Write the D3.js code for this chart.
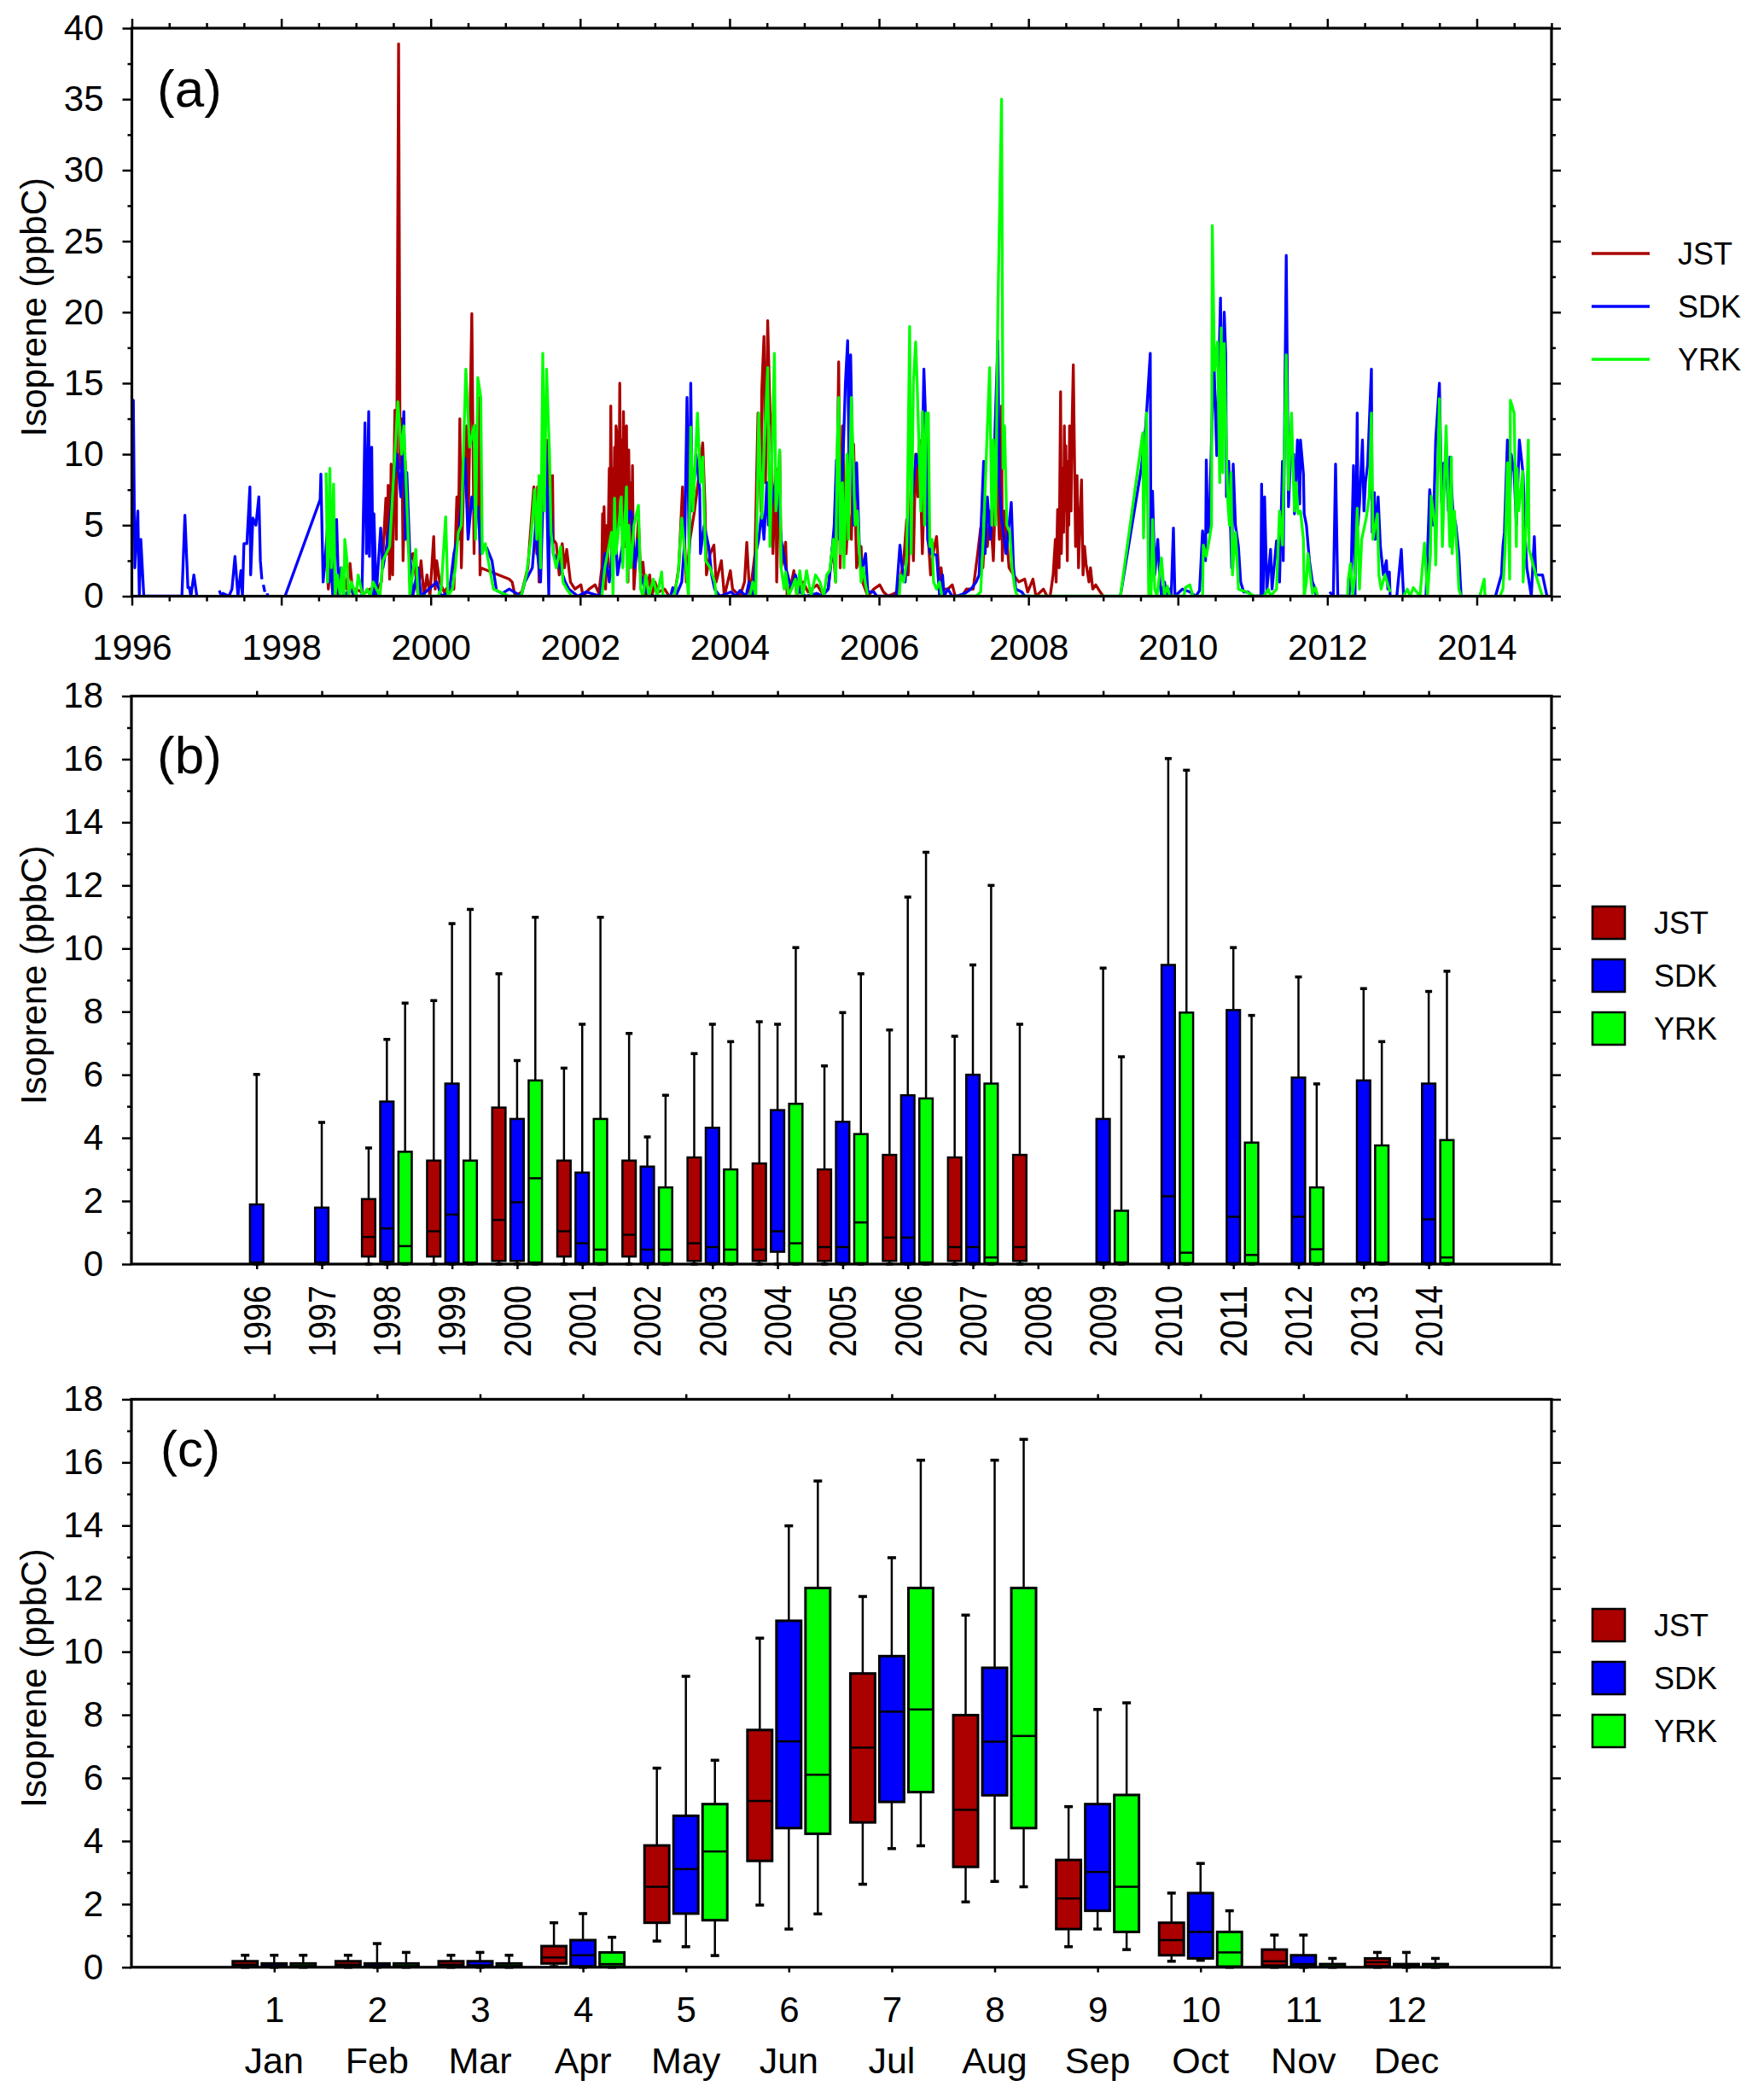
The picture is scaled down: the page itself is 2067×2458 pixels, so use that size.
<!DOCTYPE html>
<html><head><meta charset="utf-8">
<script src="https://cdn.jsdelivr.net/npm/d3@7"></script>
<style>html,body{margin:0;padding:0;background:#fff;}svg{display:block;}</style>
</head><body>
<svg id="chart" width="2067" height="2458"></svg>
<script>
// ---------------- DATA ----------------
const stations = ["JST", "SDK", "YRK"];
const stationColors = ["#aa0000", "#0000ff", "#00ff00"];

// Panel (a): [decimal year, isoprene ppbC]; null = gap in record
const jstSeries = [
[1998.60,3.1],[1998.63,0.5],[1998.66,2.5],[1998.69,2.0],[1998.73,0.5],[1998.77,0],[1998.84,1.5],[1998.88,0.5],[1998.92,2.3],[1998.96,0],[1999.00,0.5],[1999.11,0.2],[1999.19,0.5],[1999.26,0.3],[1999.34,1.0],
[1999.40,6.9],[1999.42,3.0],[1999.43,7.8],[1999.45,1.2],[1999.47,9.3],[1999.49,1.5],[1999.52,13.1],[1999.54,4.0],[1999.57,38.9],[1999.59,9.0],[1999.61,12.5],[1999.63,2.5],[1999.66,9.5],[1999.70,3.5],[1999.72,2.5],[1999.76,3.0],[1999.80,1.5],[1999.83,0],[1999.87,2.5],[1999.91,0],[1999.95,1.5],[1999.99,0],[2000.04,4.2],[2000.06,0.5],[2000.08,2.5],[2000.12,1.0],[2000.18,0.3],[2000.25,0.8],[2000.31,0.5],
[2000.35,7.0],[2000.37,4.0],[2000.39,12.5],[2000.41,2.0],[2000.44,8.0],[2000.48,12.0],[2000.50,4.5],[2000.55,19.9],[2000.58,3.0],[2000.60,12.0],[2000.62,6.0],[2000.64,14.0],[2000.66,1.5],[2000.67,2.0],[2001.05,1.2],[2001.09,1.0],[2001.13,0],[2001.22,0.3],
[2001.30,2.0],[2001.38,7.7],[2001.42,3.0],[2001.43,7.7],[2001.45,1.0],[2001.49,6.0],[2001.52,9.0],[2001.55,11.0],[2001.59,4.0],[2001.63,8.5],[2001.64,4.0],[2001.68,3.7],[2001.72,1.5],[2001.76,3.7],[2001.79,2.0],[2001.82,3.3],[2001.87,1.0],[2001.93,0.5],[2002.01,0.8],[2002.04,0],[2002.12,0.5],[2002.20,0.8],[2002.25,0.2],
[2002.29,2.0],[2002.30,5.8],[2002.31,1.0],[2002.32,6.3],[2002.33,3.0],[2002.34,0.5],[2002.36,5.0],[2002.37,2.0],[2002.38,5.9],[2002.39,9.0],[2002.40,4.0],[2002.41,13.4],[2002.42,6.0],[2002.43,1.5],[2002.44,9.0],[2002.45,5.0],[2002.46,10.5],[2002.47,6.0],[2002.48,12.0],[2002.49,11.5],[2002.50,4.0],[2002.51,11.0],[2002.52,7.0],[2002.53,15.0],[2002.54,8.0],[2002.55,5.0],[2002.56,11.0],[2002.57,6.0],[2002.58,13.0],[2002.59,7.0],[2002.60,3.5],[2002.61,9.0],[2002.62,12.0],[2002.63,5.0],[2002.64,1.0],[2002.65,10.3],[2002.66,6.0],[2002.67,4.5],[2002.68,8.0],[2002.69,3.0],[2002.70,9.2],[2002.71,4.0],[2002.72,0.5],[2002.75,3.0],[2002.78,5.4],[2002.81,1.5],[2002.84,2.4],[2002.88,0],[2002.93,1.5],[2002.96,0],[2003.00,1.0],[2003.05,0.3],[2003.13,0.5],[2003.19,0],[2003.26,0],
[2003.32,2.0],[2003.37,7.7],[2003.42,1.0],[2003.47,4.0],[2003.53,6.0],[2003.59,8.5],[2003.64,10.8],[2003.67,6.5],[2003.69,1.5],[2003.74,3.0],[2003.79,3.6],[2003.82,1.0],[2003.89,2.5],[2003.93,0],[2004.01,1.8],[2004.04,0.5],[2004.14,0],[2004.20,1.0],
[2004.23,3.8],[2004.27,0],[2004.34,3.0],[2004.38,12.9],[2004.42,6.0],[2004.43,14.4],[2004.46,18.3],[2004.48,8.0],[2004.51,19.4],[2004.54,13.0],[2004.56,12.0],[2004.58,3.0],[2004.62,9.0],[2004.63,1.0],[2004.67,10.2],[2004.69,2.0],[2004.75,3.8],[2004.77,0],[2004.83,1.0],[2004.86,1.8],[2004.90,0],[2004.98,1.0],[2005.05,0.3],[2005.17,0.8],[2005.24,0.2],[2005.32,0.5],
[2005.38,3.7],[2005.42,1.0],[2005.46,16.5],[2005.48,2.0],[2005.51,12.0],[2005.53,8.0],[2005.56,3.0],[2005.59,6.0],[2005.63,4.0],[2005.66,10.7],[2005.70,2.0],[2005.76,3.5],[2005.78,1.0],[2005.85,0],[2005.93,0.5],[2006.01,0.8],[2006.06,0.3],[2006.12,0],[2006.25,0.3],
[2006.33,2.5],[2006.37,5.4],[2006.39,1.5],[2006.43,8.0],[2006.46,2.5],[2006.49,10.0],[2006.52,7.0],[2006.54,11.0],[2006.58,3.0],[2006.62,10.0],[2006.65,5.6],[2006.66,4.0],[2006.69,1.5],[2006.73,3.2],[2006.77,4.2],[2006.81,0.8],[2006.83,2.0],[2006.86,0.5],[2006.92,0.5],[2006.98,0.8],[2007.02,0],[2007.11,0],[2007.17,0.5],[2007.26,0.5],
[2007.32,3.0],[2007.36,4.8],[2007.39,2.0],[2007.42,5.0],[2007.45,3.5],[2007.49,6.0],[2007.53,2.5],[2007.57,9.5],[2007.61,4.0],[2007.64,13.4],[2007.65,2.5],[2007.68,6.0],[2007.74,2.0],[2007.80,1.5],[2007.87,1.0],[2007.95,1.2],[2007.99,0.3],[2008.06,1.2],[2008.10,0],[2008.20,0.5],[2008.25,0],
[2008.29,0],[2008.33,1.5],[2008.36,4.0],[2008.37,1.0],[2008.39,6.1],[2008.41,2.0],[2008.43,14.4],[2008.44,3.0],[2008.46,9.0],[2008.47,4.5],[2008.48,12.0],[2008.49,6.0],[2008.50,10.6],[2008.52,2.5],[2008.53,9.5],[2008.54,5.0],[2008.55,12.0],[2008.57,6.0],[2008.58,11.0],[2008.60,16.3],[2008.62,8.0],[2008.63,3.5],[2008.65,8.5],[2008.67,2.0],[2008.69,5.5],[2008.71,8.2],[2008.73,1.5],[2008.75,3.5],[2008.77,2.3],[2008.81,1.0],[2008.83,2.0],[2008.86,0.5],[2008.90,0.8],[2008.96,0.3],[2009.00,0]
];

const sdkSeries = [
[1996.00,8.0],[1996.02,13.8],[1996.04,2.0],[1996.08,6.0],[1996.10,0],[1996.12,4.0],[1996.16,0],[1996.67,0],[1996.71,5.7],[1996.75,0.6],[1996.77,0.6],[1996.79,0],[1996.83,1.5],[1996.87,0],[1996.88,null],
[1997.17,0.4],[1997.20,0],[1997.22,0.2],[1997.30,0],[1997.34,0.5],[1997.38,2.8],[1997.42,0],[1997.46,1.8],[1997.48,0],[1997.50,3.7],[1997.54,3.7],[1997.58,7.7],[1997.59,1.5],[1997.62,5.5],[1997.66,5.0],[1997.70,7.0],[1997.72,2.5],[1997.74,1.2],[1997.75,null],[1997.76,0.8],[1997.78,0.3],[1997.79,null],[1997.81,0.2],[1997.82,0],[1997.90,null],
[1998.05,0],[1998.52,6.8],[1998.53,8.6],[1998.56,1.0],[1998.59,2.8],[1998.62,5.0],[1998.64,1.0],[1998.66,2.5],[1998.69,0],[1998.74,5.4],[1998.77,0],[1998.80,2.0],[1998.84,0],[1998.92,0.5],[1999.00,0],[1999.08,0],
[1999.12,12.2],[1999.14,3.0],[1999.17,13.0],[1999.18,2.8],[1999.21,10.5],[1999.23,0],[1999.24,5.8],[1999.27,0],[1999.33,4.8],[1999.36,2.0],[1999.40,3.2],[1999.45,5.0],[1999.50,8.0],[1999.55,10.0],[1999.60,7.0],[1999.64,13.0],[1999.66,4.0],[1999.68,8.7],[1999.72,3.0],[1999.76,0],[1999.83,2.0],[1999.87,0],
[2000.08,1.0],[2000.14,0],[2000.25,0.3],[2000.31,3.0],[2000.38,4.5],[2000.42,7.0],[2000.46,9.7],[2000.50,4.0],[2000.55,7.0],[2000.60,5.5],[2000.63,6.3],[2000.67,3.0],[2000.72,3.5],[2000.75,3.4],[2000.82,2.5],[2000.88,0.4],[2000.96,0.2],[2001.05,0.5],
[2001.21,0],[2001.26,1.0],[2001.36,2.0],[2001.42,6.0],[2001.43,3.0],[2001.47,1.0],[2001.51,8.0],[2001.54,10.9],[2001.58,0],[2001.59,7.7],[2001.64,3.0],[2001.70,2.5],[2001.80,1.0],[2001.85,0.5],[2001.97,0],[2002.08,0.3],
[2002.27,0],[2002.33,3.0],[2002.39,1.0],[2002.44,4.0],[2002.47,5.0],[2002.50,1.5],[2002.58,4.0],[2002.67,6.0],[2002.69,5.8],[2002.73,2.0],[2002.77,4.0],[2002.81,1.5],[2002.88,0.3],[2002.96,0],[2003.21,0],[2003.24,0.6],[2003.28,0],
[2003.36,1.0],[2003.40,4.0],[2003.43,14.0],[2003.46,3.0],[2003.48,15.0],[2003.50,6.0],[2003.55,10.0],[2003.60,7.5],[2003.61,3.0],[2003.66,5.0],[2003.72,3.5],[2003.76,1.5],[2003.80,0.5],[2003.87,0],[2004.02,0.3],[2004.08,0],[2004.14,0.4],[2004.22,0],
[2004.26,1.0],[2004.31,0],[2004.35,3.0],[2004.39,4.0],[2004.43,6.0],[2004.46,4.0],[2004.50,8.0],[2004.52,5.0],[2004.58,7.0],[2004.63,8.5],[2004.69,4.0],[2004.75,2.0],[2004.83,0.5],[2004.88,1.5],[2004.94,0.3],[2005.02,0],[2005.17,0.2],[2005.24,0],
[2005.32,0.5],[2005.36,2.5],[2005.40,5.0],[2005.43,9.6],[2005.47,4.0],[2005.52,10.0],[2005.55,15.0],[2005.58,18.0],[2005.60,8.0],[2005.62,17.0],[2005.66,5.0],[2005.70,9.4],[2005.74,3.0],[2005.78,2.0],[2005.82,3.0],[2005.85,0.3],[2005.93,0.3],[2005.97,0],
[2006.23,0],[2006.28,3.6],[2006.31,2.0],[2006.35,1.0],[2006.39,4.0],[2006.43,6.0],[2006.46,8.0],[2006.50,10.0],[2006.56,8.5],[2006.57,7.1],[2006.60,16.0],[2006.64,10.0],[2006.65,4.0],[2006.69,3.0],[2006.77,2.9],[2006.81,0],[2006.85,1.5],[2006.87,0],[2006.92,0.5],[2006.98,0],[2007.04,0],[2007.15,0.2],[2007.23,0.5],[2007.30,1.0],[2007.34,1.5],
[2007.40,9.5],[2007.42,3.0],[2007.45,7.0],[2007.49,4.0],[2007.53,8.0],[2007.59,18.0],[2007.61,8.0],[2007.64,5.5],[2007.70,3.0],[2007.77,6.6],[2007.80,2.0],[2007.83,0.5],[2007.91,0.3],[2007.95,0],[2008.02,0],[2008.03,null],
[2009.23,0],[2009.51,9.0],[2009.57,12.0],[2009.63,17.1],[2009.64,1.0],[2009.66,7.4],[2009.69,1.5],[2009.73,4.0],[2009.76,1.0],[2009.78,0],[2009.82,1.0],[2009.85,0],[2009.89,0.5],[2009.91,0],[2009.94,4.8],[2009.96,0],[2010.06,0.5],[2010.16,0.3],[2010.24,0],[2010.29,0.4],
[2010.33,4.6],[2010.37,2.5],[2010.38,9.6],[2010.40,4.5],[2010.42,5.0],[2010.48,17.0],[2010.52,9.9],[2010.57,21.0],[2010.59,11.0],[2010.62,20.0],[2010.64,17.0],[2010.65,7.0],[2010.68,9.5],[2010.72,2.0],[2010.74,9.3],[2010.77,5.0],[2010.81,3.5],[2010.84,1.0],[2010.88,0.3],[2010.94,0.3],[2011.00,0],[2011.11,0],
[2011.12,7.9],[2011.14,0],[2011.16,7.0],[2011.19,0.4],[2011.24,3.3],[2011.26,0.5],[2011.32,3.9],[2011.36,1.0],[2011.40,9.5],[2011.41,2.5],[2011.45,24.0],[2011.48,6.3],[2011.51,10.0],[2011.55,10.0],[2011.56,5.8],[2011.60,11.0],[2011.63,6.5],[2011.64,11.0],[2011.68,8.6],[2011.69,5.8],[2011.72,5.0],[2011.76,2.5],[2011.80,1.0],[2011.84,0.5],[2011.85,0],[2011.90,null],
[2012.03,0.3],[2012.08,0],[2012.11,9.3],[2012.14,0],[2012.29,0],[2012.32,2.0],[2012.35,9.2],[2012.37,0],[2012.40,12.9],[2012.41,5.0],[2012.43,6.5],[2012.47,11.0],[2012.49,6.0],[2012.51,8.0],[2012.54,9.3],[2012.59,16.0],[2012.60,4.5],[2012.63,7.3],[2012.64,4.0],[2012.68,7.0],[2012.71,3.5],[2012.75,1.5],[2012.79,2.5],[2012.81,0.5],[2012.83,1.7],[2012.84,0],[2012.88,null],
[2012.93,0],[2012.99,3.3],[2013.02,0],[2013.10,null],
[2013.32,0],[2013.37,7.5],[2013.42,5.0],[2013.45,11.0],[2013.50,15.0],[2013.53,6.6],[2013.54,9.3],[2013.59,9.5],[2013.62,6.0],[2013.64,9.8],[2013.68,6.0],[2013.72,5.0],[2013.76,3.0],[2013.79,0],[2013.90,null],
[2014.25,0],[2014.33,1.5],[2014.35,3.5],[2014.37,4.5],[2014.41,11.0],[2014.44,6.0],[2014.46,10.0],[2014.50,8.7],[2014.53,5.0],[2014.57,11.0],[2014.62,8.6],[2014.64,5.5],[2014.65,4.0],[2014.67,2.0],[2014.73,0],[2014.77,4.2],[2014.79,1.5],[2014.84,1.5],[2014.88,1.5],[2014.94,0]
];

const yrkSeries = [
[1998.60,8.7],[1998.62,1.0],[1998.65,9.0],[1998.67,2.0],[1998.70,7.9],[1998.72,0],[1998.75,1.5],[1998.79,0],[1998.81,2.0],[1998.84,0],[1998.85,4.0],[1998.88,2.5],[1998.90,0],[1998.94,1.0],[1999.00,0],[1999.03,1.5],[1999.09,0],[1999.15,0.5],[1999.19,0],[1999.23,1.0],[1999.32,0],
[1999.36,2.5],[1999.45,3.5],[1999.51,9.0],[1999.56,13.7],[1999.61,10.0],[1999.64,12.0],[1999.70,4.0],[1999.72,0],[1999.80,3.3],[1999.83,0],[1999.99,0],[2000.10,0],[2000.14,0.5],[2000.20,5.6],[2000.23,0],[2000.29,0.5],
[2000.33,2.0],[2000.37,4.5],[2000.41,5.0],[2000.47,16.0],[2000.52,10.5],[2000.58,12.0],[2000.60,4.0],[2000.63,15.4],[2000.67,14.0],[2000.69,3.0],[2000.73,3.7],[2000.77,2.5],[2000.84,0.5],[2001.05,0],[2001.21,0],
[2001.28,1.5],[2001.34,4.0],[2001.39,7.5],[2001.42,4.0],[2001.45,8.5],[2001.47,2.0],[2001.50,17.1],[2001.52,6.0],[2001.55,16.0],[2001.59,10.0],[2001.61,4.5],[2001.64,3.0],[2001.68,2.0],[2001.74,3.5],[2001.77,1.0],[2001.82,0.5],[2001.89,0],[2001.95,null],
[2002.29,0],[2002.33,2.0],[2002.42,4.5],[2002.44,0],[2002.46,6.9],[2002.48,3.0],[2002.50,4.0],[2002.55,7.0],[2002.57,2.0],[2002.62,7.7],[2002.63,1.0],[2002.65,5.0],[2002.68,2.0],[2002.72,5.0],[2002.78,6.4],[2002.81,0.5],[2002.84,0],[2002.88,1.5],[2002.92,0],[2002.98,1.2],[2003.03,0],[2003.09,1.7],[2003.11,0],[2003.26,0],
[2003.31,1.5],[2003.36,5.5],[2003.45,0],[2003.48,11.9],[2003.51,6.0],[2003.57,12.9],[2003.61,8.0],[2003.64,9.8],[2003.68,2.5],[2003.74,2.0],[2003.80,1.0],[2003.82,0],[2003.85,null],
[2004.27,0],[2004.31,1.0],[2004.35,0],[2004.39,12.9],[2004.43,5.5],[2004.46,10.0],[2004.51,16.1],[2004.54,3.5],[2004.60,17.1],[2004.62,6.0],[2004.63,6.5],[2004.67,10.3],[2004.69,2.0],[2004.73,0.5],[2004.75,1.7],[2004.79,0],[2004.88,1.2],[2004.90,0],[2004.94,1.8],[2004.98,0],[2005.03,1.8],[2005.09,0],[2005.15,1.5],[2005.21,1.0],[2005.26,0],[2005.30,1.5],[2005.34,1.8],
[2005.39,4.0],[2005.42,1.0],[2005.44,10.5],[2005.46,14.0],[2005.48,3.0],[2005.51,8.0],[2005.53,2.0],[2005.57,10.0],[2005.59,4.0],[2005.63,14.0],[2005.68,5.0],[2005.71,6.0],[2005.76,1.0],[2005.79,2.0],[2005.82,0.8],[2005.85,0],[2005.90,null],
[2006.27,0],[2006.29,1.5],[2006.33,1.0],[2006.37,2.5],[2006.41,19.0],[2006.43,3.0],[2006.46,15.0],[2006.49,17.9],[2006.51,15.0],[2006.56,6.0],[2006.58,13.0],[2006.61,5.0],[2006.63,12.9],[2006.66,12.9],[2006.68,3.5],[2006.71,4.0],[2006.73,1.0],[2006.77,0.5],[2006.81,1.0],[2006.84,0],[2006.90,null],
[2007.07,0],[2007.30,0],[2007.36,0.3],[2007.40,4.6],[2007.43,9.0],[2007.48,16.1],[2007.51,5.0],[2007.53,11.0],[2007.56,5.0],[2007.59,20.0],[2007.64,35.0],[2007.66,9.0],[2007.68,12.0],[2007.71,5.0],[2007.75,4.5],[2007.78,2.0],[2007.82,0.5],[2007.85,0],[2008.98,0],
[2009.23,0],[2009.53,11.5],[2009.54,4.1],[2009.58,12.9],[2009.61,0],[2009.64,0],[2009.66,5.4],[2009.69,0.5],[2009.72,0],[2009.78,2.7],[2009.82,0],[2009.86,0.7],[2009.89,0],[2010.08,0],[2010.10,0.6],[2010.16,0.8],[2010.20,0],[2010.33,0],
[2010.34,3.6],[2010.38,2.8],[2010.42,4.0],[2010.45,5.0],[2010.46,26.1],[2010.49,15.9],[2010.53,17.9],[2010.56,8.0],[2010.58,18.9],[2010.60,8.7],[2010.62,17.8],[2010.65,10.0],[2010.67,6.5],[2010.69,5.0],[2010.71,8.7],[2010.73,1.5],[2010.77,4.5],[2010.79,2.8],[2010.81,0.5],[2010.86,0.4],[2010.92,0.3],[2011.02,0],[2011.15,0],
[2011.21,0.5],[2011.24,0],[2011.32,0.5],[2011.36,6.0],[2011.40,3.6],[2011.45,17.0],[2011.48,7.5],[2011.52,12.9],[2011.56,6.0],[2011.58,8.0],[2011.61,5.8],[2011.64,6.0],[2011.68,4.0],[2011.69,0],[2011.72,1.0],[2011.74,3.0],[2011.80,0.2],[2011.84,0.6],[2011.87,0],[2011.95,null],
[2012.27,0],[2012.28,1.2],[2012.31,2.3],[2012.34,0],[2012.37,1.5],[2012.40,6.2],[2012.43,0.5],[2012.46,4.0],[2012.52,5.5],[2012.56,7.0],[2012.59,12.9],[2012.61,4.0],[2012.67,5.8],[2012.69,1.5],[2012.72,0.5],[2012.77,1.5],[2012.84,0.3],[2012.90,null],
[2013.02,0],[2013.07,0.5],[2013.11,0],[2013.15,0.6],[2013.24,0],[2013.30,3.75],[2013.34,0],[2013.38,3.0],[2013.39,7.05],[2013.44,5.0],[2013.45,2.2],[2013.50,13.9],[2013.54,3.5],[2013.59,12.0],[2013.61,8.0],[2013.64,3.5],[2013.66,9.8],[2013.67,3.0],[2013.70,6.0],[2013.74,2.7],[2013.76,0.5],[2013.79,0],[2013.90,null],
[2014.04,0],[2014.10,1.2],[2014.11,0],[2014.20,null],[2014.31,0],[2014.35,0.5],[2014.38,3.4],[2014.41,9.4],[2014.44,1.2],[2014.45,13.8],[2014.50,12.9],[2014.53,3.5],[2014.54,9.0],[2014.56,6.0],[2014.615,8.8],[2014.62,1.0],[2014.66,5.0],[2014.69,11.0],[2014.70,3.3],[2014.79,1.5],[2014.86,0.3],[2014.88,0]
];

// Panel (b): yearly box stats [year, q1, median, q3, upper whisker]
const boxYears = d3.range(1996, 2015);
const jstYearly = [
[1998,0.24,0.86,2.06,3.68],[1999,0.24,1.04,3.28,8.35],[2000,0.10,1.40,4.96,9.20],[2001,0.24,1.04,3.28,6.21],[2002,0.24,0.93,3.28,7.31],
[2003,0.10,0.66,3.38,6.67],[2004,0.10,0.46,3.19,7.68],[2005,0.10,0.54,3.00,6.28],[2006,0.10,0.84,3.46,7.42],[2007,0.10,0.54,3.38,7.22],[2008,0.10,0.54,3.46,7.60]
];
const sdkYearly = [
[1996,0.02,0.05,1.89,6.01],[1997,0.02,0.05,1.79,4.49],[1998,0.07,1.13,5.15,7.12],[1999,0.03,1.57,5.72,10.79],[2000,0.10,1.96,4.60,6.45],
[2001,0.03,0.66,2.90,7.60],[2002,0.03,0.46,3.09,4.03],[2003,0.03,0.54,4.32,7.60],[2004,0.39,1.04,4.88,7.60],[2005,0.03,0.54,4.51,7.97],
[2006,0.03,0.84,5.35,11.63],[2007,0.03,0.54,6.00,9.48],[2009,0.02,0.05,4.60,9.38],[2010,0.03,2.15,9.48,16.02],[2011,0.03,1.50,8.05,10.03],
[2012,0.03,1.50,5.91,9.10],[2013,0.02,0.05,5.82,8.73],[2014,0.03,1.42,5.72,8.64]
];
const yrkYearly = [
[1998,0.03,0.57,3.56,8.27],[1999,0.02,0.05,3.28,11.24],[2000,0.05,2.72,5.82,10.99],[2001,0.03,0.46,4.60,10.99],[2002,0.03,0.46,2.43,5.35],
[2003,0.03,0.46,3.00,7.05],[2004,0.03,0.66,5.08,10.03],[2005,0.03,1.32,4.12,9.20],[2006,0.03,0.05,5.25,13.05],[2007,0.03,0.21,5.72,12.00],
[2009,0.02,0.05,1.69,6.57],[2010,0.03,0.36,7.97,15.65],[2011,0.03,0.29,3.85,7.88],[2012,0.03,0.47,2.43,5.71],[2013,0.02,0.05,3.76,7.05],[2014,0.03,0.21,3.93,9.28]
];

// Panel (c): monthly box stats [month, lower whisker, q1, median, q3, upper whisker]
const months = d3.range(1, 13);
const monthNames = ["Jan","Feb","Mar","Apr","May","Jun","Jul","Aug","Sep","Oct","Nov","Dec"];
const jstMonthly = [
[1,0,0.02,0.08,0.19,0.38],[2,0,0.02,0.08,0.19,0.38],[3,0,0.02,0.08,0.19,0.38],[4,0.02,0.12,0.31,0.67,1.41],
[5,0.83,1.41,2.55,3.86,6.31],[6,1.97,3.37,5.27,7.52,10.43],[7,2.63,4.59,6.96,9.31,11.75],[8,2.07,3.18,4.99,7.99,11.16],
[9,0.65,1.21,2.18,3.40,5.09],[10,0.19,0.38,0.86,1.41,2.35],[11,0,0.05,0.19,0.56,1.02],[12,0,0.03,0.16,0.28,0.47]
];
const sdkMonthly = [
[1,0,0.01,0.04,0.12,0.38],[2,0,0.01,0.04,0.12,0.75],[3,0,0.02,0.06,0.19,0.47],[4,0,0.03,0.38,0.86,1.70],
[5,0.65,1.70,3.11,4.80,9.22],[6,1.21,4.41,7.16,10.98,13.99],[7,3.76,5.24,8.10,9.86,12.98],[8,2.72,5.45,7.15,9.49,16.07],
[9,1.21,1.79,3.02,5.17,8.17],[10,0.22,0.28,1.12,2.35,3.29],[11,0,0.03,0.10,0.38,1.02],[12,0,0.01,0.04,0.10,0.47]
];
const yrkMonthly = [
[1,0,0.01,0.04,0.12,0.38],[2,0,0.01,0.04,0.12,0.47],[3,0,0.01,0.04,0.12,0.38],[4,0,0.02,0.10,0.47,0.95],
[5,0.37,1.49,3.67,5.17,6.56],[6,1.69,4.23,6.10,12.02,15.41],[7,3.85,5.55,8.17,12.02,16.07],[8,2.55,4.41,7.33,12.02,16.73],
[9,0.56,1.12,2.55,5.46,8.38],[10,0,0.02,0.47,1.12,1.79],[11,0,0.01,0.03,0.10,0.28],[12,0,0.01,0.03,0.10,0.28]
];

// Axis tick values
const yTicksA = d3.range(0, 41, 5);
const yMinorA = d3.range(2.5, 40, 5);
const xTicksA = d3.range(1996, 2015, 2);
const xMinorA = d3.range(1996, 2015.01, 0.5).filter(v => v % 2 !== 0);
const yTicksBC = d3.range(0, 19, 2);
const yMinorBC = d3.range(1, 18, 2);

// ---------------- DRAWING ----------------
const FONT = '"Liberation Sans", Arial, Helvetica, sans-serif';
const svg = d3.select("#chart");
svg.append("rect").attr("width", 2067).attr("height", 2458).attr("fill", "#fff");

function styleAxis(a, fs) {
  a.select(".domain").remove();
  a.selectAll(".tick line").attr("stroke", "#000").attr("stroke-width", 2.5);
  a.selectAll("text").attr("font-family", FONT).attr("font-size", fs).attr("fill", "#000");
  return a;
}

function yAxes(g, x, y, major, minor) {
  const [x0, x1] = x.range();
  styleAxis(g.append("g").attr("transform", `translate(${x0},0)`)
    .call(d3.axisLeft(y).tickValues(major).tickSize(11).tickPadding(22).tickFormat(d3.format("d"))), 42);
  styleAxis(g.append("g").attr("transform", `translate(${x0},0)`)
    .call(d3.axisLeft(y).tickValues(minor).tickSize(5).tickFormat("")), 0);
  styleAxis(g.append("g").attr("transform", `translate(${x1},0)`)
    .call(d3.axisRight(y).tickValues(major).tickSize(11).tickFormat("")), 0);
  styleAxis(g.append("g").attr("transform", `translate(${x1},0)`)
    .call(d3.axisRight(y).tickValues(minor).tickSize(5).tickFormat("")), 0);
}

function frameRect(g, x, y) {
  const [x0, x1] = x.range();
  const [yb, yt] = y.range();
  g.append("rect").attr("x", x0).attr("y", yt).attr("width", x1 - x0).attr("height", yb - yt)
    .attr("fill", "none").attr("stroke", "#000").attr("stroke-width", 3.2);
}

function yTitle(g, y) {
  const [yb, yt] = y.range();
  g.append("text").attr("transform", `translate(54,${(yb + yt) / 2 - 6}) rotate(-90)`)
    .attr("text-anchor", "middle").attr("font-family", FONT).attr("font-size", 42).text("Isoprene (ppbC)");
}

function panelLabel(g, txt, px, py, fs) {
  g.append("text").attr("x", px).attr("y", py).attr("font-family", FONT).attr("font-size", fs).text(txt);
}

// ===== Panel (a) =====
const gA = svg.append("g");
const xA = d3.scaleLinear().domain([1996, 2015]).range([154.5, 1818]);
const yA = d3.scaleLinear().domain([0, 40]).range([698.5, 33]);

const lineA = d3.line().defined(d => d[1] !== null).x(d => xA(d[0])).y(d => yA(d[1]));
const seriesA = [jstSeries, sdkSeries, yrkSeries];
svg.append("defs").append("clipPath").attr("id", "clipA").append("rect")
  .attr("x", 154.5).attr("y", 33).attr("width", 1818 - 154.5).attr("height", 698.5 - 33);
gA.append("g").attr("clip-path", "url(#clipA)").selectAll("path").data(seriesA).join("path")
  .attr("d", lineA).attr("fill", "none").attr("stroke", (d, i) => stationColors[i])
  .attr("stroke-width", 3.3).attr("stroke-linejoin", "round");

yAxes(gA, xA, yA, yTicksA, yMinorA);
styleAxis(gA.append("g").attr("transform", `translate(0,${yA(0)})`)
  .call(d3.axisBottom(xA).tickValues(xTicksA).tickSize(11).tickPadding(34).tickFormat(d3.format("d"))), 42);
styleAxis(gA.append("g").attr("transform", `translate(0,${yA(0)})`)
  .call(d3.axisBottom(xA).tickValues(xMinorA).tickSize(6).tickFormat("")), 0);
styleAxis(gA.append("g").attr("transform", `translate(0,${yA(40)})`)
  .call(d3.axisTop(xA).tickValues(xTicksA).tickSize(11).tickFormat("")), 0);
styleAxis(gA.append("g").attr("transform", `translate(0,${yA(40)})`)
  .call(d3.axisTop(xA).tickValues(xMinorA).tickSize(6).tickFormat("")), 0);
frameRect(gA, xA, yA);
yTitle(gA, yA);
panelLabel(gA, "(a)", 184, 125, 62);

// legend (a)
const legA = gA.append("g").selectAll("g").data(stations).join("g")
  .attr("transform", (d, i) => `translate(1865,${297 + i * 62})`);
legA.append("line").attr("x1", 0).attr("x2", 68).attr("stroke", (d, i) => stationColors[i]).attr("stroke-width", 3.3);
legA.append("text").attr("x", 101).attr("y", 13).attr("font-family", FONT).attr("font-size", 36).text(d => d);

// ===== Box helper =====
function drawBoxes(g, x, y, rows, off, w, color, capW, sw) {
  const grp = g.append("g").selectAll("g").data(rows).join("g");
  const cx = d => x(d[0] + off);
  const hw = d => (x(d[0] + off + w / 2) - x(d[0] + off - w / 2)) / 2;
  grp.append("line").attr("x1", cx).attr("x2", cx).attr("y1", d => y(d[4])).attr("y2", d => y(d[5]))
    .attr("stroke", "#000").attr("stroke-width", 2.5);
  grp.append("line").attr("x1", d => cx(d) - capW / 2).attr("x2", d => cx(d) + capW / 2)
    .attr("y1", d => y(d[5])).attr("y2", d => y(d[5])).attr("stroke", "#000").attr("stroke-width", 3.5);
  grp.append("line").attr("x1", cx).attr("x2", cx).attr("y1", d => y(d[2])).attr("y2", d => y(d[1]))
    .attr("stroke", "#000").attr("stroke-width", 2.5);
  grp.append("line").attr("x1", d => cx(d) - capW / 2).attr("x2", d => cx(d) + capW / 2)
    .attr("y1", d => y(d[1])).attr("y2", d => y(d[1])).attr("stroke", "#000").attr("stroke-width", 3.5);
  grp.append("rect").attr("x", d => cx(d) - hw(d)).attr("y", d => y(d[4]))
    .attr("width", d => 2 * hw(d)).attr("height", d => y(d[2]) - y(d[4]))
    .attr("fill", color).attr("stroke", "#000").attr("stroke-width", sw);
  grp.append("line").attr("x1", d => cx(d) - hw(d)).attr("x2", d => cx(d) + hw(d))
    .attr("y1", d => y(d[3])).attr("y2", d => y(d[3])).attr("stroke", "#000").attr("stroke-width", 2.5);
}

// ===== Panel (b) =====
const gB = svg.append("g");
const xB = d3.scaleLinear().domain([1994.077, 2015.886]).range([154, 1818]);
const yB = d3.scaleLinear().domain([0, 18]).range([1481, 815.5]);
const withZero = rows => rows.map(r => [r[0], 0, r[1], r[2], r[3], r[4]]);
[jstYearly, sdkYearly, yrkYearly].forEach((rows, i) => {
  drawBoxes(gB, xB, yB, withZero(rows), (i - 1) * 0.28, 0.205, stationColors[i], 8, 2.5);
});
yAxes(gB, xB, yB, yTicksBC, yMinorBC);
styleAxis(gB.append("g").attr("transform", `translate(0,${yB(0)})`)
  .call(d3.axisBottom(xB).tickValues(boxYears).tickSize(6).tickFormat("")), 0);
styleAxis(gB.append("g").attr("transform", `translate(0,${yB(18)})`)
  .call(d3.axisTop(xB).tickValues(boxYears).tickSize(6).tickFormat("")), 0);
gB.append("g").selectAll("text").data(boxYears).join("text")
  .attr("transform", d => `translate(${xB(d)},1506) rotate(-90)`)
  .attr("dy", "0.36em").attr("text-anchor", "end")
  .attr("font-family", FONT).attr("font-size", 44)
  .attr("textLength", 84).attr("lengthAdjust", "spacingAndGlyphs").text(d => d);
frameRect(gB, xB, yB);
yTitle(gB, yB);
panelLabel(gB, "(b)", 184, 906, 62);

function squareLegend(g, y0) {
  const lg = g.append("g").selectAll("g").data(stations).join("g")
    .attr("transform", (d, i) => `translate(1866,${y0 + i * 62})`);
  lg.append("rect").attr("x", 0).attr("y", 0).attr("width", 38).attr("height", 38)
    .attr("fill", (d, i) => stationColors[i]).attr("stroke", "#000").attr("stroke-width", 2.5);
  lg.append("text").attr("x", 72).attr("y", 32).attr("font-family", FONT).attr("font-size", 36).text(d => d);
}
squareLegend(gB, 1062);

// ===== Panel (c) =====
const gC = svg.append("g");
const xC = d3.scaleLinear().domain([-0.387, 13.41]).range([154, 1818]);
const yC = d3.scaleLinear().domain([0, 18]).range([2304.8, 1639.4]);
[jstMonthly, sdkMonthly, yrkMonthly].forEach((rows, i) => {
  drawBoxes(gC, xC, yC, rows, (i - 1) * 0.282, 0.24, stationColors[i], 10, 3);
});
yAxes(gC, xC, yC, yTicksBC, yMinorBC);
styleAxis(gC.append("g").attr("transform", `translate(0,${yC(0)})`)
  .call(d3.axisBottom(xC).tickValues(months).tickSize(6).tickPadding(28).tickFormat(d3.format("d"))), 42);
styleAxis(gC.append("g").attr("transform", `translate(0,${yC(18)})`)
  .call(d3.axisTop(xC).tickValues(months).tickSize(6).tickFormat("")), 0);
gC.append("g").selectAll("text").data(months).join("text")
  .attr("x", d => xC(d)).attr("y", 2429).attr("text-anchor", "middle")
  .attr("font-family", FONT).attr("font-size", 43).text(d => monthNames[d - 1]);
frameRect(gC, xC, yC);
yTitle(gC, yC);
panelLabel(gC, "(c)", 188, 1718, 60);
squareLegend(gC, 1885);
</script>
</body></html>
